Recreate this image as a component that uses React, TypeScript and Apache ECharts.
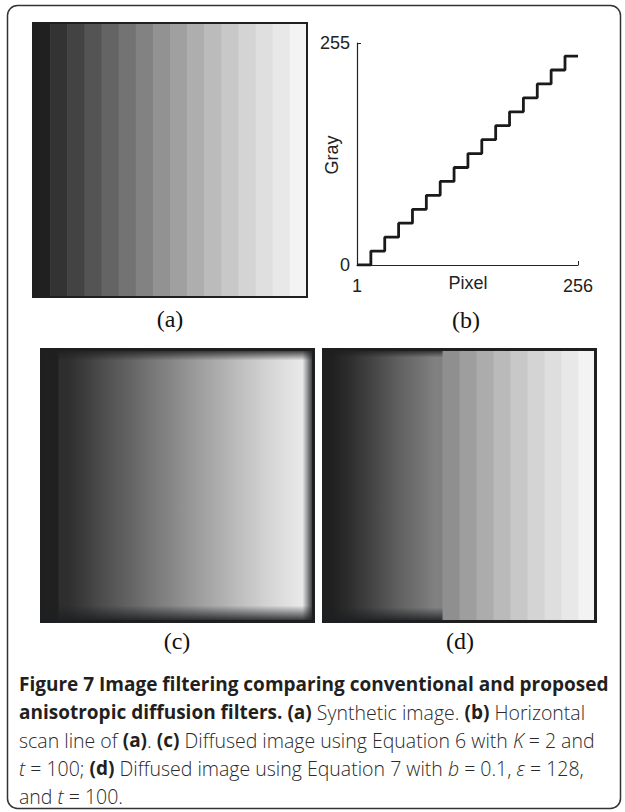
import React, { useEffect, useRef } from "react";
import * as echarts from "echarts";

// ---------- data ----------
const stripeIndex = [0, 1, 2, 3, 4, 5, 6, 7, 8, 9, 10, 11, 12, 13, 14, 15];
// (a) synthetic image: displayed gray of each stripe
const syntheticGray = [32, 51, 67, 84, 100, 115, 130, 146, 160, 174, 187, 200, 212, 223, 232, 243];
// (b) horizontal scan line
const scanPixel = [1, 17, 33, 49, 65, 81, 97, 113, 129, 145, 161, 177, 193, 209, 225, 241, 256];
const scanGray = [0, 16, 32, 48, 64, 80, 96, 112, 128, 144, 160, 176, 192, 208, 224, 240, 240];
const pixelTicks = [1, 256];
const grayTicks = [0, 255];
const axisNames = ["Pixel", "Gray"];
// (c) diffused with Equation 6 (K = 2, t = 100)
const diffusedKGray = [32, 46, 60, 76, 90, 104, 119, 132, 147, 161, 174, 188, 201, 214, 225, 234];
const diffusedKSmooth = [0, 1, 1, 1, 1, 1, 1, 1, 1, 1, 1, 1, 1, 1, 1, 1];
const diffusedKEdge = [1, 1, 1, 1, 1, 1, 1, 1, 1, 1, 1, 1, 1, 1, 1, 1];
// (d) diffused with Equation 7 (b = 0.1, eps = 128, t = 100)
const diffusedBGray = [32, 45, 62, 80, 98, 112, 128, 143, 158, 172, 186, 200, 212, 222, 232, 243];
const diffusedBSmooth = [1, 1, 1, 1, 1, 1, 1, 0, 0, 0, 0, 0, 0, 0, 0, 0];
const diffusedBEdge = [1, 1, 1, 1, 1, 1, 1, 0, 0, 0, 0, 0, 0, 0, 0, 0];
const noSmooth = [0, 0, 0, 0, 0, 0, 0, 0, 0, 0, 0, 0, 0, 0, 0, 0];

const panelLabels = ["(a)", "(b)", "(c)", "(d)"];

const captionLines: [string, string][][] = [
  [["b", "Figure 7 Image filtering comparing conventional and proposed"]],
  [["b", "anisotropic diffusion filters. (a)"], ["n", " Synthetic image. "], ["b", "(b)"], ["n", " Horizontal"]],
  [["n", "scan line of "], ["b", "(a)"], ["n", ". "], ["b", "(c)"], ["n", " Diffused image using Equation 6 with "], ["i", "K"], ["n", " = 2 and"]],
  [["i", "t"], ["n", " = 100; "], ["b", "(d)"], ["n", " Diffused image using Equation 7 with "], ["i", "b"], ["n", " = 0.1, "], ["i", "ε"], ["n", " = 128,"]],
  [["n", "and "], ["i", "t"], ["n", " = 100."]],
];

// ---------- styles ----------
const FRAME = "#1e1f21";
const INK = "#231f20";
const CAPTION_FONT = "'Open Sans', 'Noto Sans', sans-serif";
const PLOT_FONT = "'Liberation Sans', Arial, sans-serif";
const SERIF = "'Liberation Serif', 'Times New Roman', serif";

const grayCss = (g: number) => {
  const v = Math.round(g);
  return `rgb(${v},${v},${v})`;
};

type EdgeOpts = { top: number; bottom: number; right: number; frame: number };

function makeStripeRender(grays: number[], smooth: number[], edge: number[], o: EdgeOpts) {
  return (params: any, api: any) => {
    const i = api.value(0);
    const tl = api.coord([i, 1]);
    const br = api.coord([i + 1, 0]);
    const x = tl[0];
    const y = tl[1];
    const w = br[0] - tl[0];
    const h = br[1] - tl[1];
    const n = grays.length;
    const g = grays[i];
    let fill: any = grayCss(g);
    if (smooth[i]) {
      const gl = i > 0 && smooth[i - 1] ? (grays[i - 1] + g) / 2 : g;
      const gr = i < n - 1 && smooth[i + 1] ? (grays[i + 1] + g) / 2 : g;
      fill = new echarts.graphic.LinearGradient(0, 0, 1, 0, [
        { offset: 0, color: grayCss(gl) },
        { offset: 0.5, color: grayCss(g) },
        { offset: 1, color: grayCss(gr) },
      ]);
    }
    const children: any[] = [
      { type: "rect", shape: { x, y, width: w + 0.6, height: h }, style: { fill } },
    ];
    if (i === 0) {
      const first = edge.indexOf(1);
      const last = edge.lastIndexOf(1);
      if (first >= 0) {
        const x0 = api.coord([first, 1])[0];
        const x1 = api.coord([last + 1, 0])[0];
        if (o.top > 0) {
          children.push({
            type: "rect",
            shape: { x: x0, y, width: x1 - x0, height: o.top },
            style: {
              fill: new echarts.graphic.LinearGradient(0, 0, 0, 1, [
                { offset: 0, color: "rgba(30,31,33,0.95)" },
                { offset: 1, color: "rgba(30,31,33,0)" },
              ]),
            },
            z2: 5,
          });
        }
        if (o.bottom > 0) {
          children.push({
            type: "rect",
            shape: { x: x0, y: y + h - o.bottom, width: x1 - x0, height: o.bottom },
            style: {
              fill: new echarts.graphic.LinearGradient(0, 0, 0, 1, [
                { offset: 0, color: "rgba(30,31,33,0)" },
                { offset: 1, color: "rgba(30,31,33,0.95)" },
              ]),
            },
            z2: 5,
          });
        }
        if (o.right > 0) {
          children.push({
            type: "rect",
            shape: { x: x1 - o.right, y, width: o.right, height: h },
            style: {
              fill: new echarts.graphic.LinearGradient(0, 0, 1, 0, [
                { offset: 0, color: "rgba(30,31,33,0)" },
                { offset: 1, color: "rgba(30,31,33,0.95)" },
              ]),
            },
            z2: 6,
          });
        }
      }
      const cs = params.coordSys;
      children.push({
        type: "rect",
        shape: { x: cs.x, y: cs.y, width: cs.width, height: cs.height },
        style: { fill: "none", stroke: FRAME, lineWidth: o.frame },
        z2: 10,
      });
    }
    return { type: "group", children };
  };
}

function hiddenAxis(gridIndex: number, min: number, max: number) {
  return { gridIndex, type: "value" as const, min, max, show: false };
}

function buildCaption() {
  const rich = {
    b: { fontFamily: CAPTION_FONT, fontWeight: "bold", fontSize: 19, fill: INK },
    n: { fontFamily: CAPTION_FONT, fontWeight: 300, fontSize: 19.5, fill: "#2a2a2a" },
    i: { fontFamily: CAPTION_FONT, fontWeight: 300, fontStyle: "italic", fontSize: 19.5, fill: "#2a2a2a" },
  };
  const ys = [684, 712, 740, 768, 796];
  return captionLines.map((segs, k) => ({
    type: "text",
    x: 19,
    y: ys[k],
    style: {
      text: segs.map(([s, t]) => `{${s}|${t}}`).join(""),
      rich,
      fontFamily: CAPTION_FONT,
      fontSize: 19,
      fill: INK,
      verticalAlign: "middle",
    },
  }));
}

export default function App() {
  const ref = useRef<HTMLDivElement>(null);
  useEffect(() => {
    if (!ref.current) return;
    const chart = echarts.init(ref.current, undefined, { renderer: "svg" });
    const stripeData = (grays: number[]) => stripeIndex.map((i) => [i, grays[i]]);
    const labelPos = [
      [170, 319],
      [466, 320],
      [177, 641],
      [460, 641],
    ];
    chart.setOption({
      animation: false,
      backgroundColor: "#ffffff",
      grid: [
        { left: 33, top: 23, width: 274, height: 274 },
        { left: 357, top: 43, width: 221, height: 222 },
        { left: 41.5, top: 349.5, width: 272, height: 272 },
        { left: 323.5, top: 349.5, width: 272, height: 272 },
      ],
      xAxis: [
        hiddenAxis(0, 0, 16),
        {
          gridIndex: 1,
          type: "value",
          min: 1,
          max: 256,
          axisLine: { show: true, onZero: false, lineStyle: { color: "#222", width: 1.2 } },
          axisTick: { show: true, inside: true, length: 4, customValues: [256], lineStyle: { color: "#222" } },
          axisLabel: { customValues: pixelTicks, fontSize: 18, color: "#222", fontFamily: PLOT_FONT, margin: 12 },
          splitLine: { show: false },
        },
        hiddenAxis(2, 0, 16),
        hiddenAxis(3, 0, 16),
      ],
      yAxis: [
        hiddenAxis(0, 0, 1),
        {
          gridIndex: 1,
          type: "value",
          min: 0,
          max: 255,
          axisLine: { show: true, onZero: false, lineStyle: { color: "#222", width: 1.2 } },
          axisTick: { show: true, inside: true, length: 4, customValues: [255], lineStyle: { color: "#222" } },
          axisLabel: { customValues: grayTicks, fontSize: 18, color: "#222", fontFamily: PLOT_FONT, margin: 7 },
          splitLine: { show: false },
        },
        hiddenAxis(2, 0, 1),
        hiddenAxis(3, 0, 1),
      ],
      series: [
        {
          type: "custom",
          xAxisIndex: 0,
          yAxisIndex: 0,
          data: stripeData(syntheticGray),
          encode: { x: 0 },
          renderItem: makeStripeRender(syntheticGray, noSmooth, noSmooth, { top: 0, bottom: 0, right: 0, frame: 2 }),
          silent: true,
        },
        {
          type: "line",
          xAxisIndex: 1,
          yAxisIndex: 1,
          step: "end",
          data: scanPixel.map((p, k) => [p, scanGray[k]]),
          showSymbol: false,
          symbol: "none",
          lineStyle: { color: "#1a1a1a", width: 2.8 },
          silent: true,
        },
        {
          type: "custom",
          xAxisIndex: 2,
          yAxisIndex: 2,
          data: stripeData(diffusedKGray),
          encode: { x: 0 },
          renderItem: makeStripeRender(diffusedKGray, diffusedKSmooth, diffusedKEdge, { top: 11, bottom: 16, right: 11, frame: 3 }),
          silent: true,
        },
        {
          type: "custom",
          xAxisIndex: 3,
          yAxisIndex: 3,
          data: stripeData(diffusedBGray),
          encode: { x: 0 },
          renderItem: makeStripeRender(diffusedBGray, diffusedBSmooth, diffusedBEdge, { top: 8, bottom: 14, right: 0, frame: 3 }),
          silent: true,
        },
      ],
      graphic: [
        {
          type: "rect",
          shape: { x: 7.5, y: 5.5, width: 613, height: 803, r: 10 },
          style: { fill: "none", stroke: "#333", lineWidth: 1.5 },
          z: 0,
        },
        {
          type: "text",
          x: 468,
          y: 283,
          style: { text: axisNames[0], font: `18px ${PLOT_FONT}`, fill: "#222", align: "center", verticalAlign: "middle" },
        },
        {
          type: "text",
          x: 332,
          y: 155,
          rotation: Math.PI / 2,
          style: { text: axisNames[1], font: `18px ${PLOT_FONT}`, fill: "#222", align: "center", verticalAlign: "middle" },
        },
        ...panelLabels.map((t, k) => ({
          type: "text",
          x: labelPos[k][0],
          y: labelPos[k][1],
          style: {
            text: t,
            font: `24px ${SERIF}`,
            fill: "#111",
            align: "center",
            verticalAlign: "middle",
          },
        })),
        ...buildCaption(),
      ],
    });
    return () => chart.dispose();
  }, []);
  return (
    <div
      ref={ref}
      style={{ position: "absolute", left: 0, top: 0, width: 625, height: 812, background: "#fff" }}
    />
  );
}
